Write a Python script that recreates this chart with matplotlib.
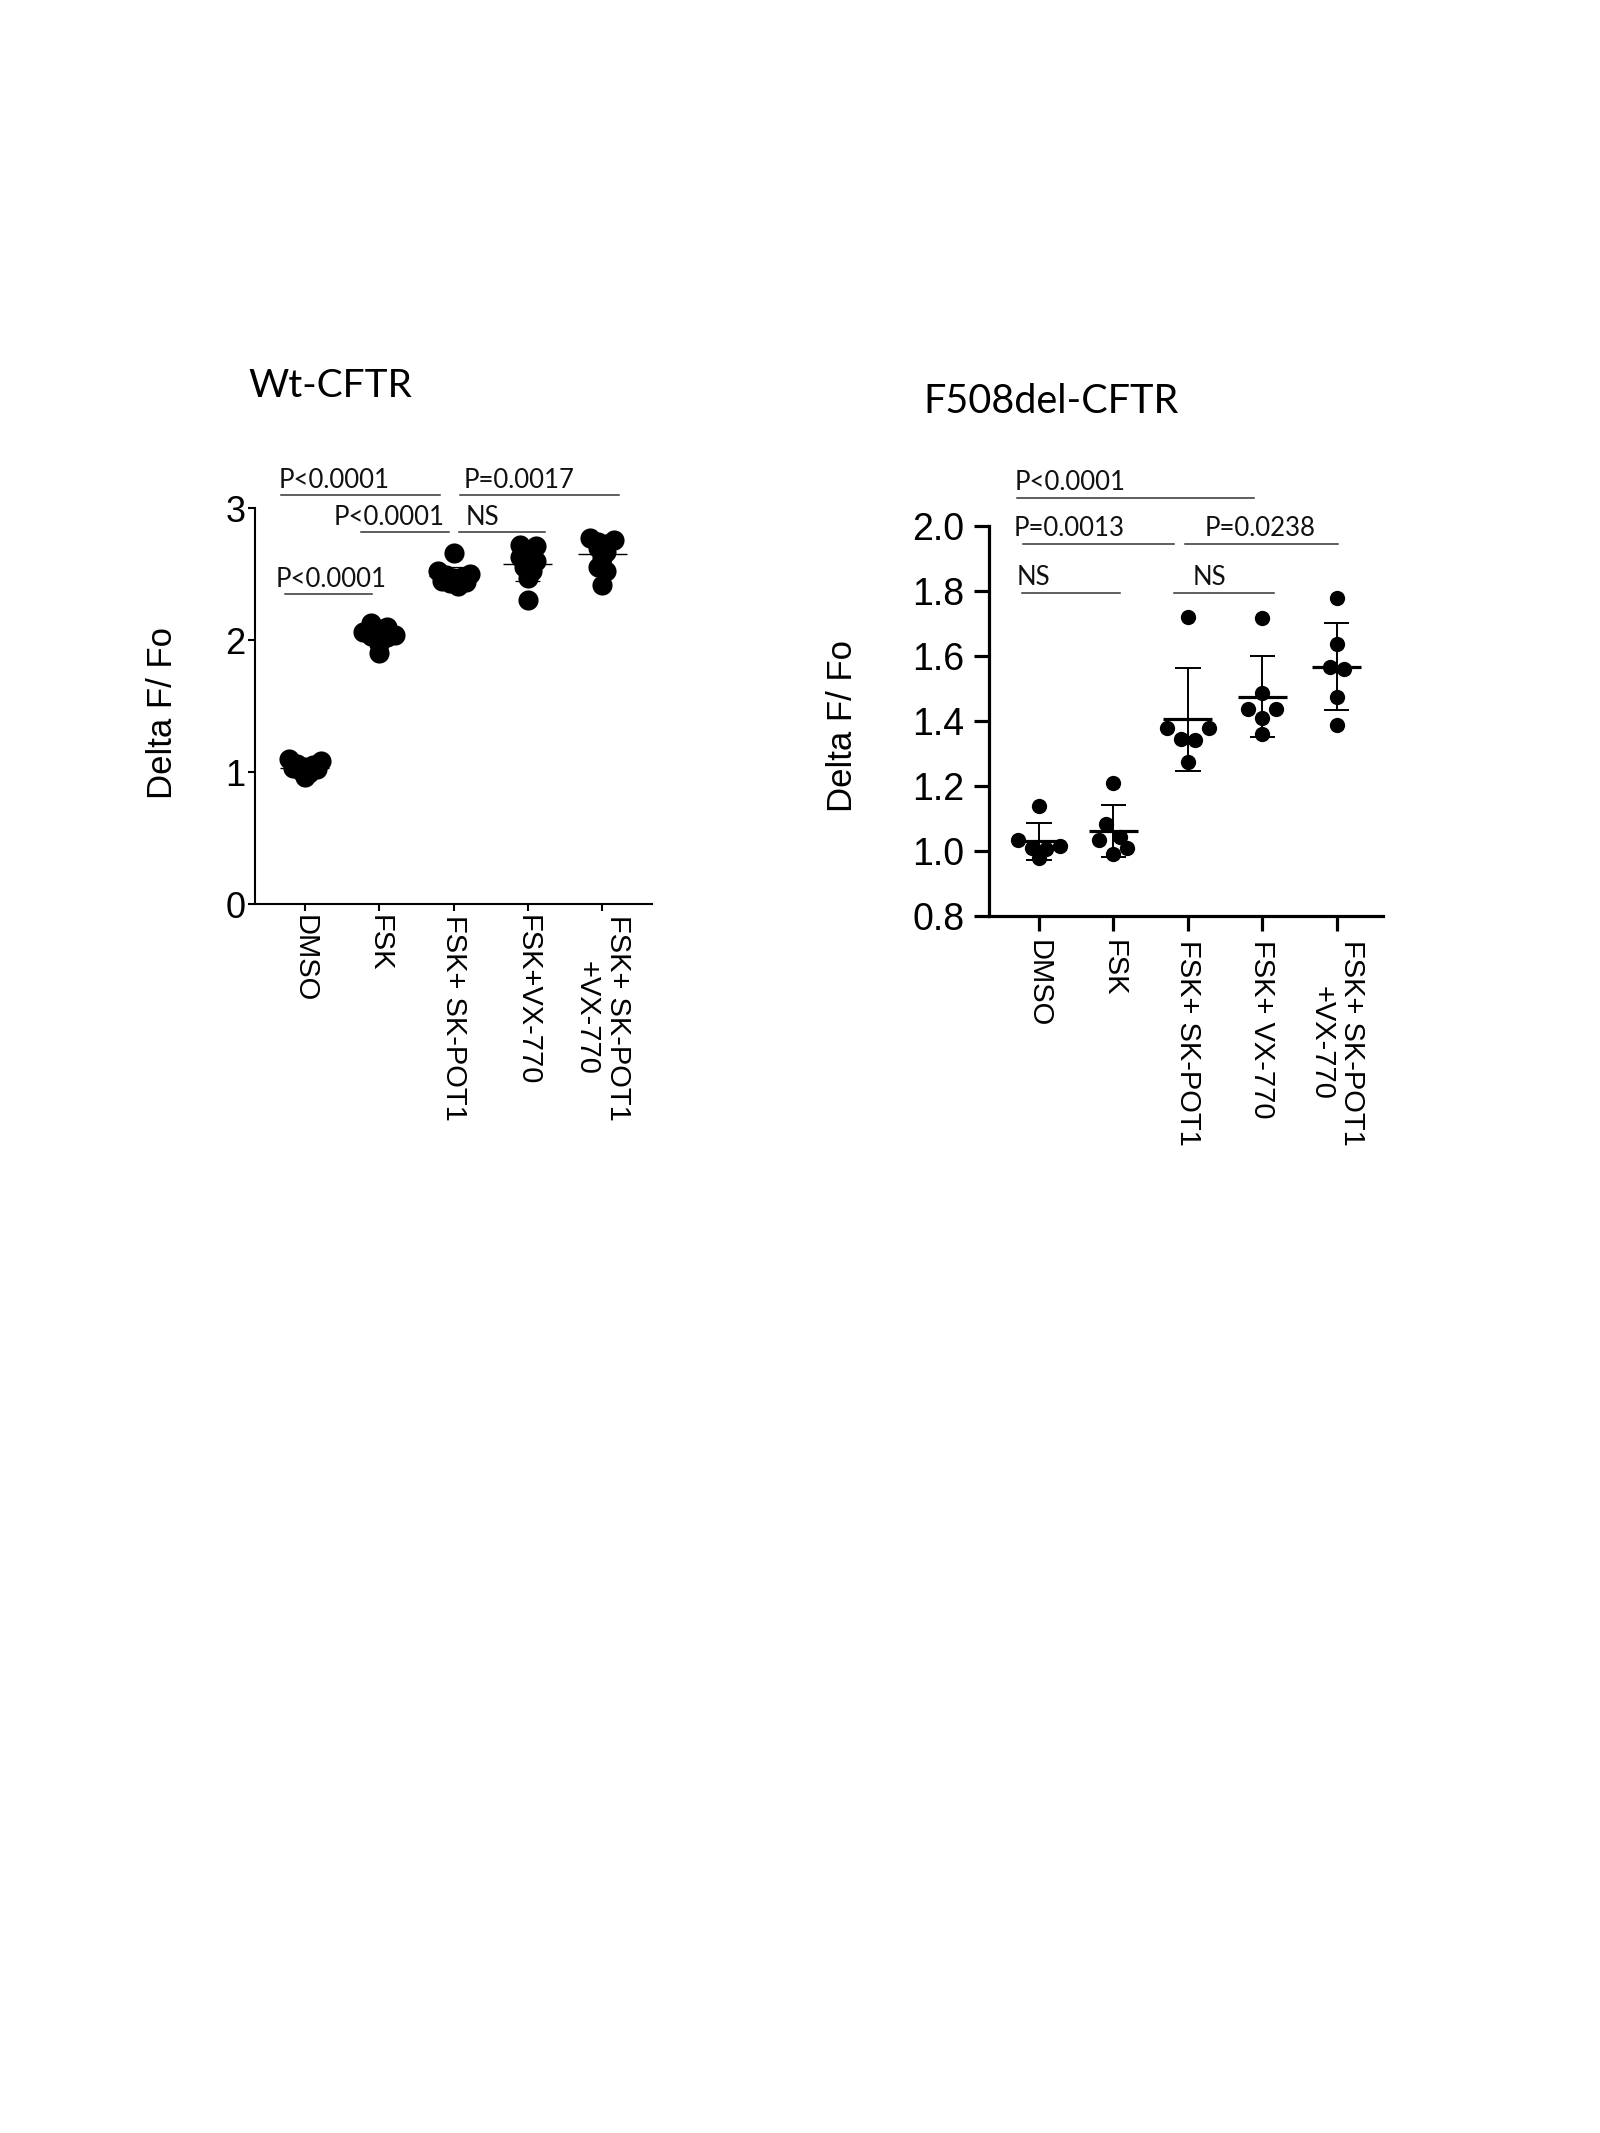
import numpy as np
import matplotlib
matplotlib.use("Agg")
import matplotlib.pyplot as plt

plt.rcParams['font.family'] = ['Liberation Sans', 'DejaVu Sans']

# ---- data -------------------------------------------------------------
wt_labels = ["DMSO", "FSK", "FSK+ SK-POT1", "FSK+VX-770", "FSK+ SK-POT1\n+VX-770"]
wt_dmso = [1.10, 1.08, 1.06, 1.05, 1.04, 1.03, 1.02, 1.01, 0.99, 0.96]
wt_fsk = [2.13, 2.10, 2.08, 2.06, 2.04, 2.03, 2.02, 2.00, 1.97, 1.90]
wt_pot = [2.66, 2.52, 2.50, 2.49, 2.48, 2.47, 2.45, 2.44, 2.43, 2.41]
wt_vx = [2.72, 2.71, 2.67, 2.63, 2.60, 2.58, 2.55, 2.52, 2.47, 2.30]
wt_combo = [2.77, 2.76, 2.74, 2.73, 2.70, 2.67, 2.62, 2.55, 2.52, 2.42]

f_labels = ["DMSO", "FSK", "FSK+ SK-POT1", "FSK+ VX-770", "FSK+ SK-POT1\n+VX-770"]
f_dmso = [1.14, 1.035, 1.015, 1.010, 1.005, 0.978]
f_fsk = [1.21, 1.083, 1.042, 1.034, 1.008, 0.991]
f_pot = [1.719, 1.379, 1.377, 1.344, 1.342, 1.273]
f_vx = [1.716, 1.486, 1.438, 1.438, 1.409, 1.361]
f_combo = [1.779, 1.636, 1.566, 1.559, 1.474, 1.389]

# comparisons: (x start, x end, y, label)
wt_comps = [(-0.32, 1.82, 3.10, "P<0.0001"), (0.76, 1.94, 2.82, "P<0.0001"),
            (2.09, 4.23, 3.10, "P=0.0017"), (2.08, 3.23, 2.82, "NS"),
            (-0.27, 0.90, 2.35, "P<0.0001")]
wt_text_x = [-0.35, 0.38, 2.13, 2.16, -0.39]
f_comps = [(-0.29, 2.89, 2.086, "P<0.0001"), (-0.22, 1.82, 1.945, "P=0.0013"),
           (1.96, 4.02, 1.945, "P=0.0238"), (-0.23, 1.09, 1.794, "NS"),
           (1.82, 3.15, 1.794, "NS")]
f_text_x = [-0.32, -0.34, 2.23, -0.30, 2.07]

W, H = 1600, 2133
fig = plt.figure(figsize=(16, 21.33), dpi=100)


def box(l, r, t, b):
    return [l / W, 1 - b / H, (r - l) / W, (b - t) / H]


def swarm(ax, vals, row_px, step_px):
    # group points with close values into rows, spread each row symmetrically
    p0 = ax.transData.transform((0, 0))
    p1 = ax.transData.transform((1, 1))
    sx, sy = p1[0] - p0[0], p1[1] - p0[1]
    order = np.argsort(vals)[::-1]
    rows, cur = [], []
    for idx in order:
        if cur and (vals[cur[0]] - vals[idx]) * sy > row_px:
            rows.append(cur)
            cur = []
        cur.append(idx)
    rows.append(cur)
    offs = np.zeros(len(vals))
    for row in rows:
        n = len(row)
        slots = [(k - (n - 1) / 2) * step_px for k in range(n)]
        seq = []
        lo, hi = 0, n - 1
        while lo <= hi:
            seq.append(slots[lo])
            if hi != lo:
                seq.append(slots[hi])
            lo += 1
            hi -= 1
        for idx, s in zip(row, seq):
            offs[idx] = s / sx
    return offs


def panel(ax, groups, labels, comps, text_x, ylim, yticks, ytl, yfs, lw, tlen, xpad, ypad,
          msize, row_px, step_px, mean_lw, sd_lw, show_vert, ytext_off, xlim):
    ax.set_xlim(*xlim)
    ax.set_ylim(*ylim)
    for s in ["top", "right"]:
        ax.spines[s].set_visible(False)
    for s in ["left", "bottom"]:
        ax.spines[s].set_linewidth(lw)
    ax.set_xticks(range(len(labels)))
    ax.set_xticklabels(labels, rotation=-90, fontsize=21, va="top", ha="center",
                       linespacing=1.15)
    ax.set_yticks(yticks)
    ax.set_yticklabels(ytl, fontsize=yfs)
    ax.tick_params(axis="x", length=tlen, width=lw, pad=xpad)
    ax.tick_params(axis="y", length=tlen, width=lw, pad=ypad)
    for i, vals in enumerate(groups):
        vals = np.array(vals)
        m, sd = vals.mean(), vals.std(ddof=1)
        offs = swarm(ax, vals, row_px, step_px)
        ax.plot(i + offs, vals, "o", color="black", markersize=msize,
                markeredgewidth=0, zorder=3)
        ax.hlines(m, i - 0.33, i + 0.33, color="black", lw=mean_lw, zorder=2)
        ax.hlines([m - sd, m + sd], i - 0.17, i + 0.17, color="black", lw=sd_lw, zorder=2)
        if show_vert:
            ax.vlines(i, m - sd, m + sd, color="black", lw=sd_lw, zorder=2)
    for (x0, x1, y, lab), tx in zip(comps, text_x):
        ax.plot([x0, x1], [y, y], color="#333333", lw=1.1, clip_on=False)
        ax.text(tx, y + ytext_off, lab, fontsize=18.5, family="Lato", ha="left",
                va="baseline", clip_on=False, color="#111111")


ax1 = fig.add_axes(box(255, 652, 508, 904))
panel(ax1, [wt_dmso, wt_fsk, wt_pot, wt_vx, wt_combo], wt_labels, wt_comps, wt_text_x,
      (0, 3), [0, 1, 2, 3], ["0", "1", "2", "3"], 26, 1.5, 5, 3, 2,
      14.5, 9, 8, 1.0, 0.9, False, 0.05, (-0.673, 4.673))

ax2 = fig.add_axes(box(989, 1383, 526, 916))
panel(ax2, [f_dmso, f_fsk, f_pot, f_vx, f_combo], f_labels, f_comps, f_text_x,
      (0.8, 2.0), [0.8, 1.0, 1.2, 1.4, 1.6, 1.8, 2.0],
      ["0.8", "1.0", "1.2", "1.4", "1.6", "1.8", "2.0"], 27, 2.3, 10.5, 7, 7,
      11, 15, 14, 2.3, 1.4, True, 0.024, (-0.67, 4.62))

fig.text(248 / W, 1 - 397 / H, "Wt-CFTR", fontsize=28, family="Lato", va="baseline", ha="left")
fig.text(923 / W, 1 - 413 / H, "F508del-CFTR", fontsize=28.5, family="Lato", va="baseline", ha="left")
fig.text(163 / W, 1 - 713 / H, "Delta F/ Fo", fontsize=25, rotation=90, ha="center", va="center")
fig.text(842 / W, 1 - 726 / H, "Delta F/ Fo", fontsize=25, rotation=90, ha="center", va="center")

fig.savefig("out.png", dpi=100, facecolor="white")
